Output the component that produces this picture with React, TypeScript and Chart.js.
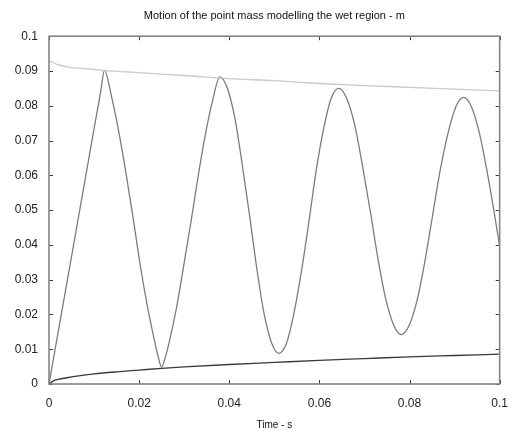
import { useEffect, useRef } from "react";
import { Chart, registerables } from "chart.js";

Chart.register(...registerables);

const TITLE = "Motion of the point mass modelling the wet region - m";
const X_LABEL = "Time - s";
const X_TICKS = [0, 0.02, 0.04, 0.06, 0.08, 0.1];
const Y_TICKS = [0, 0.01, 0.02, 0.03, 0.04, 0.05, 0.06, 0.07, 0.08, 0.09, 0.1];

const motionTime = [
  0, 0.002, 0.004, 0.006, 0.008, 0.01, 0.0115, 0.0123,
  0.0139, 0.0155, 0.0171, 0.0187, 0.0202, 0.0218, 0.0234, 0.0243, 0.025, 0.0257,
  0.0266, 0.0282, 0.0298, 0.0315, 0.0331, 0.0347, 0.0363, 0.0379,
  0.0395, 0.0412, 0.0428, 0.0445, 0.0461, 0.0477, 0.0494, 0.051,
  0.0527, 0.0543, 0.056, 0.0577, 0.0593, 0.061, 0.0626, 0.0643,
  0.066, 0.0678, 0.0695, 0.0713, 0.073, 0.0747, 0.0765, 0.0782,
  0.0799, 0.0817, 0.0834, 0.0851, 0.0868, 0.0886, 0.0903, 0.092,
  0.0937, 0.0954, 0.0971, 0.0988, 0.1,
];
const motionValue = [
  0, 0.0147, 0.0293, 0.044, 0.0587, 0.0734, 0.0843, 0.0902,
  0.0825, 0.0724, 0.0605, 0.0475, 0.0345, 0.0226, 0.0125, 0.0074, 0.0048, 0.0072,
  0.0116, 0.0213, 0.0333, 0.0466, 0.0598, 0.0718, 0.0815, 0.0883,
  0.0853, 0.0767, 0.0638, 0.0485, 0.0333, 0.0204, 0.0118, 0.0088,
  0.0117, 0.02, 0.0323, 0.0469, 0.0615, 0.0738, 0.0821, 0.085,
  0.0823, 0.0747, 0.0632, 0.0496, 0.036, 0.0246, 0.0169, 0.0142,
  0.0168, 0.0242, 0.0352, 0.0483, 0.0614, 0.0724, 0.0798, 0.0824,
  0.0798, 0.0727, 0.0619, 0.0492, 0.0396,
];

const upperTime = [0, 0.002, 0.004, 0.008, 0.012, 0.02, 0.03, 0.04, 0.05, 0.06, 0.07, 0.08, 0.09, 0.1];
const upperValue = [0.0929, 0.0918, 0.0912, 0.0907, 0.0902, 0.0895, 0.0887, 0.0878, 0.0872, 0.0864, 0.0858, 0.0853, 0.0848, 0.0843];

const lowerTime = [0, 0.001, 0.002, 0.004, 0.007, 0.01, 0.015, 0.02, 0.025, 0.03, 0.04, 0.05, 0.06, 0.07, 0.08, 0.09, 0.1];
const lowerValue = [0, 0.0009, 0.0013, 0.0018, 0.0024, 0.0029, 0.0035, 0.004, 0.0045, 0.0049, 0.0056, 0.0062, 0.0068, 0.0073, 0.0078, 0.0082, 0.0086];

const FONT = "'Liberation Sans', Arial, sans-serif";

const pts = (xs: number[], ys: number[]) => xs.map((x, i) => ({ x, y: ys[i] }));
const fmt = (v: number) => String(Number(v.toFixed(3)));

const framePlugin = {
  id: "frame",
  afterDatasetsDraw(chart: any) {
    const { ctx, chartArea: a, scales } = chart;
    const xs = scales.x;
    const ys = scales.y;
    ctx.save();
    ctx.strokeStyle = "#3a3a3a";
    ctx.lineWidth = 1;
    ctx.beginPath();
    for (const v of Y_TICKS) {
      const py = Math.round(ys.getPixelForValue(v)) + 0.5;
      ctx.moveTo(a.left, py);
      ctx.lineTo(a.left + 4, py);
      ctx.moveTo(a.right, py);
      ctx.lineTo(a.right - 4, py);
    }
    for (const v of X_TICKS) {
      const px = Math.round(xs.getPixelForValue(v)) + 0.5;
      ctx.moveTo(px, a.bottom);
      ctx.lineTo(px, a.bottom - 4);
      ctx.moveTo(px, a.top);
      ctx.lineTo(px, a.top + 4);
    }
    ctx.stroke();
    ctx.strokeStyle = "#858585";
    ctx.lineWidth = 1.6;
    ctx.strokeRect(a.left, a.top, a.right - a.left, a.bottom - a.top);
    ctx.restore();
  },
};

export default function App() {
  const ref = useRef<HTMLCanvasElement | null>(null);
  useEffect(() => {
    document.body.style.margin = "0";
    const canvas = ref.current;
    if (!canvas) return;
    const chart = new Chart(canvas, {
      type: "line",
      data: {
        datasets: [
          {
            data: pts(upperTime, upperValue),
            borderColor: "#c9c9c9",
            borderWidth: 1.3,
            pointRadius: 0,
            cubicInterpolationMode: "monotone",
          },
          {
            data: pts(motionTime, motionValue),
            borderColor: "#7c7c7c",
            borderWidth: 1.3,
            pointRadius: 0,
            cubicInterpolationMode: "monotone",
          },
          {
            data: pts(lowerTime, lowerValue),
            borderColor: "#3a3a3a",
            borderWidth: 1.3,
            pointRadius: 0,
            cubicInterpolationMode: "monotone",
          },
        ],
      },
      options: {
        responsive: false,
        animation: false,
        layout: { padding: { left: 0, right: 17, top: 0, bottom: 0 } },
        plugins: {
          legend: { display: false },
          tooltip: { enabled: false },
          title: {
            display: true,
            text: TITLE,
            fullSize: false,
            color: "#111",
            font: { family: FONT, size: 11, weight: "normal" },
            padding: { top: 9, bottom: 14 },
          },
        },
        scales: {
          x: {
            type: "linear",
            min: 0,
            max: 0.1,
            afterFit: (s: any) => {
              s.height = 53;
            },
            afterBuildTicks: (s: any) => {
              s.ticks = X_TICKS.map((v) => ({ value: v }));
            },
            grid: { display: false, drawTicks: false },
            border: { display: false },
            ticks: {
              color: "#222",
              padding: 12,
              font: { family: FONT, size: 12 },
              callback: (v: any) => fmt(Number(v)),
              maxRotation: 0,
            },
            title: {
              display: true,
              text: X_LABEL,
              color: "#111",
              font: { family: FONT, size: 10 },
              padding: { top: 3, bottom: 6 },
            },
          },
          y: {
            type: "linear",
            min: 0,
            max: 0.1,
            afterFit: (s: any) => {
              s.width = 49;
            },
            afterBuildTicks: (s: any) => {
              s.ticks = Y_TICKS.map((v) => ({ value: v }));
            },
            grid: { display: false, drawTicks: false },
            border: { display: false },
            ticks: {
              color: "#222",
              padding: 11,
              font: { family: FONT, size: 12 },
              callback: (v: any) => fmt(Number(v)),
            },
          },
        },
      },
      plugins: [framePlugin],
    } as any);
    return () => chart.destroy();
  }, []);
  return (
    <div style={{ width: 520, height: 437 }}>
      <canvas ref={ref} width={520} height={437} style={{ display: "block" }} />
    </div>
  );
}
